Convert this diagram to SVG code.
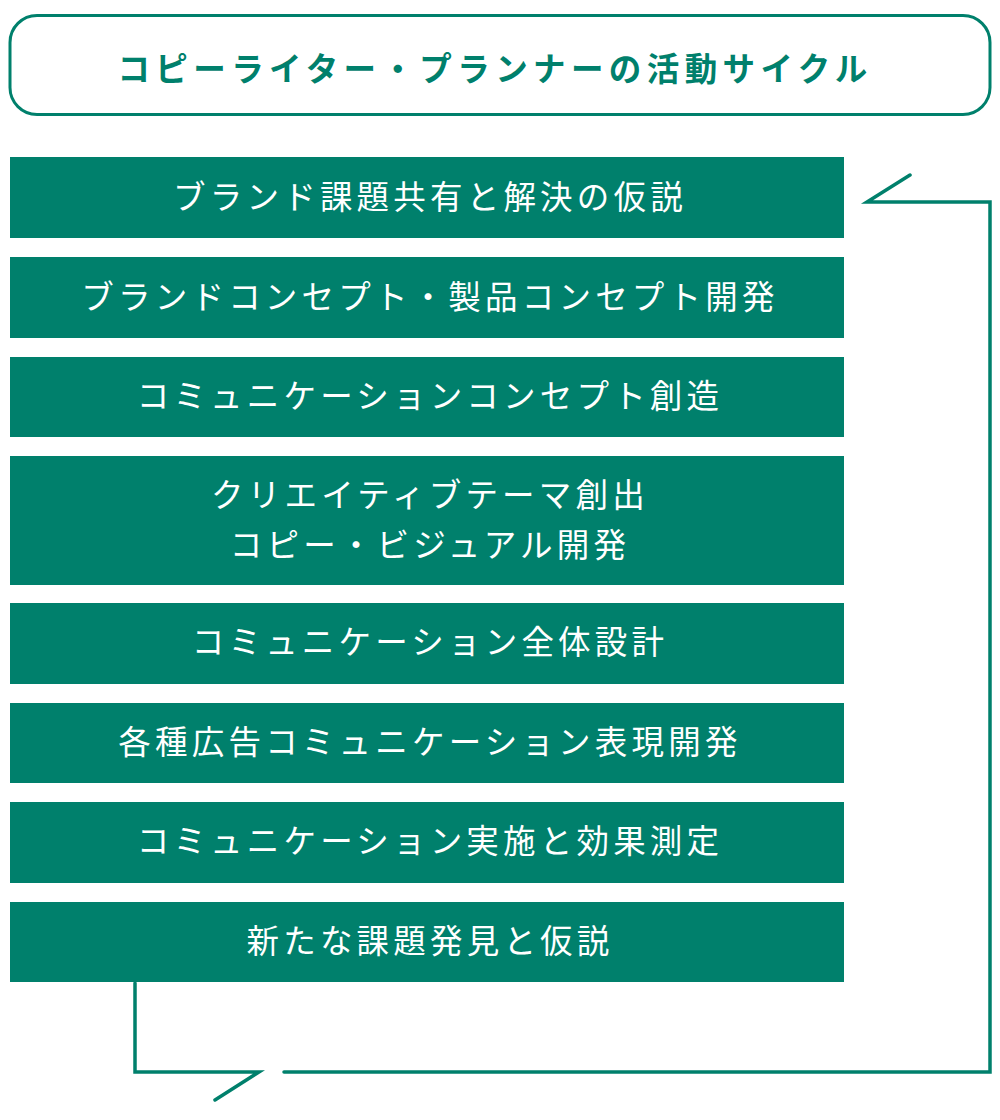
<svg xmlns="http://www.w3.org/2000/svg" width="1000" height="1120" viewBox="0 0 1000 1120">
<style>
.box{fill:#00806c;}
.t{font-family:"Noto Sans CJK JP","Noto Sans CJK SC",sans-serif;font-size:32.5px;fill:#ffffff;text-anchor:middle;dominant-baseline:central;letter-spacing:4.2px;}
.title{font-family:"Noto Sans CJK JP","Noto Sans CJK SC",sans-serif;font-size:32.5px;font-weight:bold;fill:#00806c;text-anchor:middle;dominant-baseline:central;letter-spacing:5.4px;}
.ln{fill:none;stroke:#00806c;stroke-width:3.5;stroke-linecap:round;stroke-linejoin:miter;}
</style>
<g id="title">
<rect x="10" y="15.5" width="980" height="99" rx="27" fill="#ffffff" stroke="#00806c" stroke-width="3"/>
<text class="title" x="495" y="66">コピーライター・プランナーの活動サイクル</text>
</g>
<g id="n1"><rect class="box" x="10" y="157" width="834" height="81"/><text class="t" x="430" y="194">ブランド課題共有と解決の仮説</text></g>
<g id="n2"><rect class="box" x="10" y="257" width="834" height="81"/><text class="t" x="430" y="294">ブランドコンセプト・製品コンセプト開発</text></g>
<g id="n3"><rect class="box" x="10" y="357" width="834" height="80"/><text class="t" x="430" y="393">コミュニケーションコンセプト創造</text></g>
<g id="n4"><rect class="box" x="10" y="456" width="834" height="129"/><text class="t" x="430" y="492">クリエイティブテーマ創出</text><text class="t" x="430" y="542">コピー・ビジュアル開発</text></g>
<g id="n5"><rect class="box" x="10" y="603" width="834" height="81"/><text class="t" x="430" y="639">コミュニケーション全体設計</text></g>
<g id="n6"><rect class="box" x="10" y="703" width="834" height="80"/><text class="t" x="430" y="739">各種広告コミュニケーション表現開発</text></g>
<g id="n7"><rect class="box" x="10" y="802" width="834" height="81"/><text class="t" x="430" y="838">コミュニケーション実施と効果測定</text></g>
<g id="n8"><rect class="box" x="10" y="902" width="834" height="80"/><text class="t" x="430" y="938">新たな課題発見と仮説</text></g>
<g id="connectors">
<path class="ln" d="M135 983 V1072 H259 L215 1100"/>
<path class="ln" d="M284 1072 H990 V202 H867 L910 175"/>
</g>
</svg>
